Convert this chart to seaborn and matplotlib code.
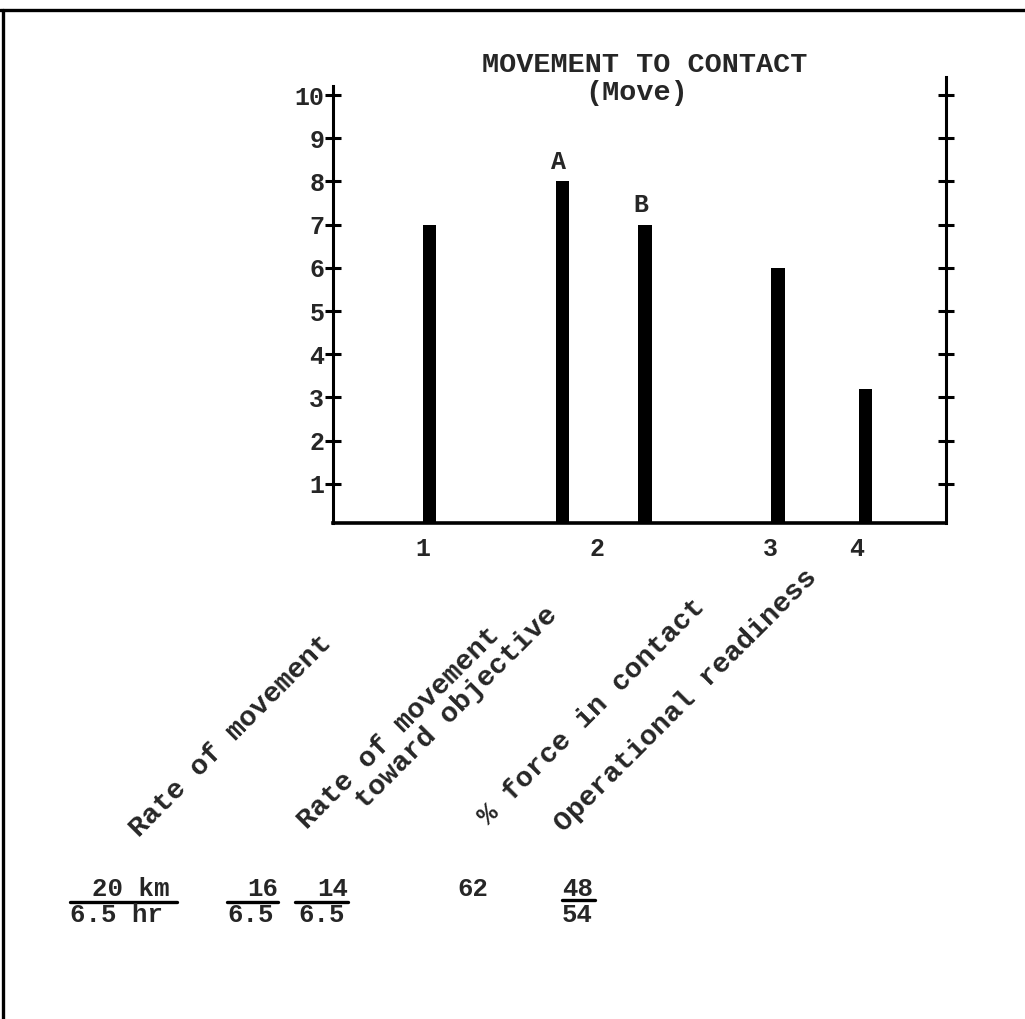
import matplotlib
matplotlib.use("Agg")
import matplotlib.pyplot as plt
from matplotlib.lines import Line2D
import seaborn as sns
import pandas as pd

# ---- data ----
bar_positions = [1.58, 3.75, 5.09, 7.26, 8.68]
bar_values = [7.0, 8.0, 7.0, 6.0, 3.2]
bar_marks = ["", "A", "B", "", ""]
xtick_positions = [1.47, 4.31, 7.13, 8.55]
xtick_labels = ["1", "2", "3", "4"]
ytick_values = [1, 2, 3, 4, 5, 6, 7, 8, 9, 10]
title_text = "MOVEMENT TO CONTACT\n(Move)"
measure_labels = ["Rate of movement",
                  "Rate of movement",
                  "toward objective",
                  "% force in contact",
                  "Operational readiness"]
numerators = ["20 km", "16", "14", "62", "48"]
denominators = ["6.5 hr", "6.5", "6.5", "", "54"]

sns.set_style("white")
plt.rcParams["font.family"] = ["Liberation Mono", "DejaVu Sans Mono"]
plt.rcParams["font.weight"] = "bold"

W, H = 1025, 1019
fig = plt.figure(figsize=(W / 100, H / 100), dpi=100)

def fx(px):
    return px / W

def fy(py):
    return 1 - py / H

ax = fig.add_axes([fx(333), fy(523), fx(946) - fx(333), fy(77) - fy(523)])

df = pd.DataFrame({"pos": bar_positions, "val": bar_values})
sns.barplot(data=df, x="pos", y="val", native_scale=True, width=0.16,
            color="black", saturation=1, linewidth=0, ax=ax)

ax.set_xlim(0, 10)
ax.set_ylim(0.09, 10.42)

for s in ["left", "right", "bottom"]:
    ax.spines[s].set_visible(True)
    ax.spines[s].set_color("black")
ax.spines["top"].set_visible(False)
ax.spines["left"].set_linewidth(2.2)
ax.spines["right"].set_linewidth(2.2)
ax.spines["bottom"].set_linewidth(2.6)
ax.spines["left"].set_bounds(0.09, 10.22)

ax.set_yticks(ytick_values)
ax.set_yticklabels([str(v) for v in ytick_values], fontsize=18, fontweight="bold")
ax.tick_params(axis="y", which="both", left=True, right=True, direction="inout",
               length=11.5, width=2.2, color="black", pad=0.5)
ax.set_xticks(xtick_positions)
ax.set_xticklabels(xtick_labels, fontsize=18, fontweight="bold")
ax.tick_params(axis="x", length=0, pad=10)
ax.set_xlabel("")
ax.set_ylabel("")

for p, v, m in zip(bar_positions, bar_values, bar_marks):
    if m:
        ax.annotate(m, (p, v), xytext=(-3, 14), textcoords="offset points",
                    ha="center", va="center", fontsize=18, fontweight="bold")

# title
t1, t2 = title_text.split("\n")
fig.text(fx(645), fy(65), t1, ha="center", va="center", fontsize=20.5, fontweight="bold")
fig.text(fx(637), fy(93), t2, ha="center", va="center", fontsize=20.5, fontweight="bold")

# rotated measure labels (start points of each text line)
label_starts = [(139, 838), (307, 830), (365, 810), (488, 826), (564, 833)]
for txt, (sx, sy) in zip(measure_labels, label_starts):
    fig.text(fx(sx), fy(sy), txt, rotation=45, rotation_mode="anchor",
             ha="left", va="baseline", fontsize=20.5, fontweight="bold")

# fractions
num_x = [92, 247, 317, 457, 562]
den_x = [70, 227, 298, 0, 562]
line_spans = [(70, 177), (227, 278), (295, 348), None, (562, 595)]
line_y = [902, 902, 902, None, 900]
for n, d, nxp, dxp, span, ly in zip(numerators, denominators, num_x, den_x, line_spans, line_y):
    fig.text(fx(nxp), fy(889), n, ha="left", va="center", fontsize=18.5, fontweight="bold")
    if d:
        fig.text(fx(dxp), fy(915), d, ha="left", va="center", fontsize=18.5, fontweight="bold")
    if span is not None:
        fig.add_artist(Line2D([fx(span[0]), fx(span[1])], [fy(ly), fy(ly)],
                              color="black", linewidth=2.4, transform=fig.transFigure))

# page border (top and left)
fig.add_artist(Line2D([fx(0), fx(W)], [fy(10), fy(10)], color="black",
                      linewidth=2.4, transform=fig.transFigure))
fig.add_artist(Line2D([fx(3), fx(3)], [fy(10), fy(H)], color="black",
                      linewidth=2.4, transform=fig.transFigure))

fig.savefig("out.png", dpi=100)
